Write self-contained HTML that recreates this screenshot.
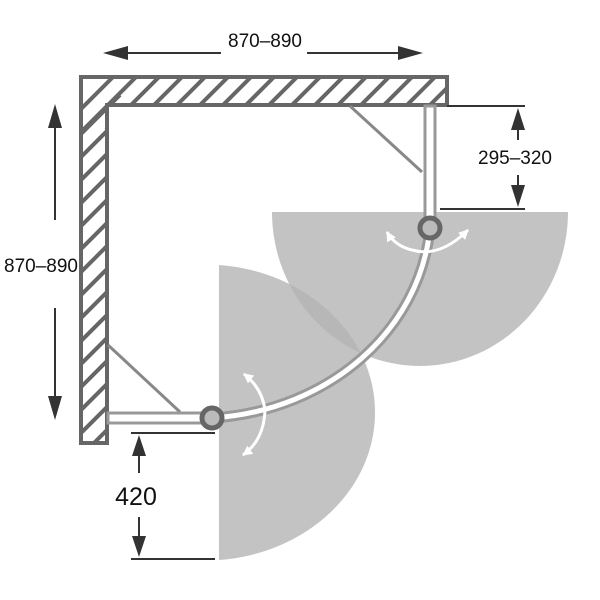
<!DOCTYPE html>
<html><head><meta charset="utf-8"><style>html,body{margin:0;padding:0;background:#fff}svg{display:block}</style></head>
<body>
<svg width="600" height="600" viewBox="0 0 600 600" xmlns="http://www.w3.org/2000/svg">
<defs>
<clipPath id="wallclip"><path d="M83,79 H445 V103 H105 V441 H83 Z"/></clipPath>
<marker id="ah" markerWidth="10" markerHeight="10" refX="9" refY="5" orient="auto" markerUnits="userSpaceOnUse"><path d="M0,0 L10,5 L0,10 Z" fill="#fff"/></marker>
</defs>
<rect width="600" height="600" fill="#fff"/>
<path d="M219,265 A170,148 0 0 1 219,560 Z" fill="#b4b4b4" fill-opacity="0.8"/>
<path d="M272,212 H568 A148,154 0 0 1 272,212 Z" fill="#b4b4b4" fill-opacity="0.8"/>
<g clip-path="url(#wallclip)" stroke="#666" stroke-width="4">
<path d="M60,130 l60,-60 M83,130 l60,-60 M106,130 l60,-60 M129,130 l60,-60 M152,130 l60,-60 M175,130 l60,-60 M198,130 l60,-60 M221,130 l60,-60 M244,130 l60,-60 M267,130 l60,-60 M290,130 l60,-60 M313,130 l60,-60 M336,130 l60,-60 M359,130 l60,-60 M382,130 l60,-60 M405,130 l60,-60 M428,130 l60,-60
M60,155 l60,-60 M60,178 l60,-60 M60,201 l60,-60 M60,224 l60,-60 M60,247 l60,-60 M60,270 l60,-60 M60,293 l60,-60 M60,316 l60,-60 M60,339 l60,-60 M60,362 l60,-60 M60,385 l60,-60 M60,408 l60,-60 M60,431 l60,-60 M60,454 l60,-60 M60,477 l60,-60"/>
</g>
<path d="M81,77 H447 V105 H107 V443 H81 Z" fill="none" stroke="#666" stroke-width="4"/>
<line x1="350" y1="106" x2="422" y2="172" stroke="#888" stroke-width="3"/>
<line x1="108" y1="345" x2="180" y2="412" stroke="#888" stroke-width="3"/>
<rect x="425" y="106" width="10" height="120" fill="#fff" stroke="#999" stroke-width="3"/>
<rect x="108" y="413" width="100" height="10" fill="#fff" stroke="#999" stroke-width="3"/>
<path d="M213,418 C330,410 420,330 430,228" fill="none" stroke="#999" stroke-width="11"/>
<path d="M213,418 C330,410 420,330 430,228" fill="none" stroke="#fff" stroke-width="5"/>
<circle cx="430" cy="228" r="10" fill="#bbb" stroke="#666" stroke-width="5"/>
<circle cx="212" cy="418" r="10" fill="#bbb" stroke="#666" stroke-width="5"/>
<path d="M412,250 Q395,246 387,232" fill="none" stroke="#fff" stroke-width="3" marker-end="url(#ah)"/>
<path d="M412,250 Q440,258 468,230" fill="none" stroke="#fff" stroke-width="3" marker-end="url(#ah)"/>
<path d="M265,410 Q262,388 244,374" fill="none" stroke="#fff" stroke-width="3" marker-end="url(#ah)"/>
<path d="M265,410 Q264,440 243,455" fill="none" stroke="#fff" stroke-width="3" marker-end="url(#ah)"/>
<g fill="#333" stroke="#333">
<line x1="118" y1="53" x2="221" y2="53" stroke-width="2"/><path d="M103,53 L128,46 L128,60 Z" stroke="none"/>
<line x1="307" y1="53" x2="408" y2="53" stroke-width="2"/><path d="M423,53 L398,46 L398,60 Z" stroke="none"/>
<line x1="55" y1="118" x2="55" y2="220" stroke-width="2"/><path d="M55,104 L48,128 L62,128 Z" stroke="none"/>
<line x1="55" y1="308" x2="55" y2="406" stroke-width="2"/><path d="M55,420 L48,396 L62,396 Z" stroke="none"/>
<line x1="447" y1="106" x2="525" y2="106" stroke-width="2"/>
<line x1="440" y1="209" x2="525" y2="209" stroke-width="2"/>
<line x1="518" y1="120" x2="518" y2="140" stroke-width="2"/><path d="M518,108 L511,130 L525,130 Z" stroke="none"/>
<line x1="518" y1="175" x2="518" y2="196" stroke-width="2"/><path d="M518,207 L511,185 L525,185 Z" stroke="none"/>
<line x1="131" y1="433" x2="215" y2="433" stroke-width="2"/>
<line x1="131" y1="559" x2="215" y2="559" stroke-width="2"/>
<line x1="139" y1="445" x2="139" y2="473" stroke-width="2"/><path d="M139,435 L132,456 L146,456 Z" stroke="none"/>
<line x1="139" y1="517" x2="139" y2="546" stroke-width="2"/><path d="M139,557 L132,536 L146,536 Z" stroke="none"/>
</g>
<g font-family="Liberation Sans, sans-serif" fill="#111" stroke="none">
<text x="265" y="47" font-size="19" text-anchor="middle">870–890</text>
<text x="41" y="272" font-size="19" text-anchor="middle">870–890</text>
<text x="515" y="164" font-size="19" text-anchor="middle">295–320</text>
<text x="136" y="505" font-size="25" text-anchor="middle">420</text>
</g>
</svg>
</body></html>
